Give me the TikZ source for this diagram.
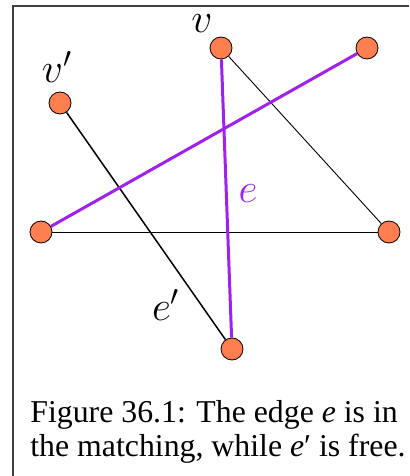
\documentclass[tikz,border=0pt]{standalone}
\usepackage{fontspec}
\setmainfont{Liberation Serif}
\usetikzlibrary{positioning}
\definecolor{vcoral}{RGB}{255,127,80}
\definecolor{mpurple}{RGB}{160,32,240}

\begin{document}
\begin{tikzpicture}[x=0.5pt, y=0.5pt,
  vert/.style={circle, draw=black, fill=vcoral, inner sep=0pt, minimum size=11pt, line width=0.4pt},
  matched/.style={mpurple, line width=1.5pt},
  free/.style={black, line width=0.45pt},
  lbl/.style={font=\fontsize{20.7}{24}\selectfont},
  capt/.style={font=\fontsize{15.9}{20}\selectfont, anchor=base west, inner sep=0pt}]
\useasboundingbox (0,0) rectangle (409,476);
% cropped frame of the figure box
\draw[black!75, line width=0.6pt] (13,0) -- (13,470) -- (409,470);
% vertices
\node[vert] (v)  at (221,428) {};
\node[vert] (tr) at (367,428) {};
\node[vert] (vp) at (60,373) {};
\node[vert] (l)  at (41,244) {};
\node[vert] (r)  at (389,244) {};
\node[vert] (b)  at (232,127) {};
% edges
\draw[free] (l) -- (r);
\draw[free] (v) -- (r);
\draw[free, line width=0.75pt] (vp) -- (b);
\draw[matched] (l) -- (tr);
\draw[matched] (v) -- (b);
% labels
\node[lbl] (lv)  at (202,452) {$v$};
\node[lbl] (lvp) at (57,409) {$v'$};
\node[lbl, text=mpurple] (le) at (248,282) {$e$};
\node[lbl] (lep) at (166,171) {$e'$};
% caption
\node[capt] (cap1) at (30,53) {Figure 36.1: The edge \textit{e} is in};
\node[capt] (cap2) at (30,19) {the matching, while \textit{e}′ is free.};
\end{tikzpicture}
\end{document}
